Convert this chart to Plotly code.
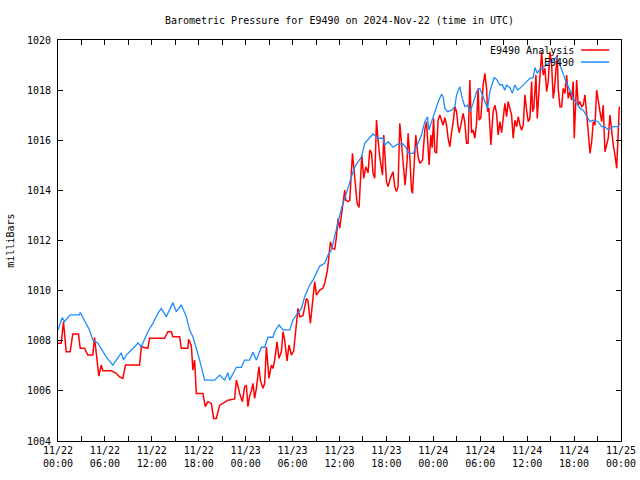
import pandas as pd
import plotly.graph_objects as go

START = "2024-11-22 00:00"
END = "2024-11-25 00:00"

# E9490 observations: hours after START, pressure (mb)
obs_hours = [0.0, 0.54, 0.83, 1.56, 2.75, 2.84, 4.03, 4.45, 5.09, 6.17, 7.01, 8.09, 8.38, 8.73,
             10.01, 10.21, 10.65, 11.49, 12.13, 12.77, 13.21, 13.85, 14.69, 15.13, 15.77, 16.41,
             16.83, 17.25, 18.11, 18.75, 20.03, 20.67, 21.31, 21.73, 21.95, 22.81, 23.45, 23.87,
             24.51, 24.93, 25.37, 26.01, 26.43, 26.85, 27.49, 27.71, 28.26, 28.77, 29.63, 30.05,
             30.49, 31.13, 31.55, 32.19, 32.61, 33.05, 33.47, 34.11, 34.53, 34.97, 35.39, 35.81,
             36.25, 36.67, 37.09, 37.53, 37.95, 38.37, 38.81, 39.23, 39.65, 40.29, 40.93, 41.57,
             41.79, 42.21, 42.85, 43.49, 44.13, 44.57, 44.77, 45.41, 45.85, 46.49, 46.91, 47.26,
             47.42, 47.77, 48.19, 48.70, 49.05, 49.25, 49.47, 49.82, 50.33, 50.75, 50.97, 51.39,
             51.69, 52.03, 52.38, 52.67, 53.09, 53.53, 53.95, 54.25, 54.59, 54.94, 55.23, 55.78,
             56.09, 56.51, 56.81, 57.15, 57.37, 57.79, 58.09, 58.43, 58.78, 59.07, 59.71, 60.35,
             60.77, 60.99, 61.29, 61.54, 61.85, 62.40, 63.13, 63.77, 64.19, 64.61, 65.05, 65.47,
             65.89, 66.33, 66.75, 67.17, 67.61, 68.03, 68.45, 69.09, 69.53, 69.95, 70.37, 71.01,
             71.65, 71.87]
obs_mb = [1008.43, 1008.93, 1008.76, 1009.03, 1009.03, 1009.13, 1008.43, 1008.03, 1007.90, 1007.36,
          1007.03, 1007.52, 1007.23, 1007.43, 1007.83, 1007.92, 1007.76, 1008.36, 1008.69, 1009.09,
          1009.29, 1008.96, 1009.52, 1009.16, 1009.43, 1008.96, 1008.43, 1008.16, 1007.23, 1006.43,
          1006.43, 1006.63, 1006.43, 1006.72, 1006.43, 1006.94, 1006.94, 1007.23, 1007.23, 1007.54,
          1007.23, 1007.74, 1007.74, 1008.14, 1008.14, 1008.36, 1008.63, 1008.43, 1008.43, 1008.83,
          1009.03, 1009.29, 1009.76, 1010.22, 1010.42, 1010.69, 1010.98, 1011.09, 1011.42, 1011.62,
          1012.15, 1012.69, 1013.28, 1013.68, 1014.15, 1014.55, 1014.94, 1015.14, 1015.34, 1015.88,
          1016.01, 1016.25, 1016.08, 1016.08, 1015.81, 1015.94, 1015.72, 1015.85, 1015.85, 1015.68,
          1015.48, 1015.48, 1015.74, 1016.21, 1016.74, 1016.94, 1016.41, 1016.74, 1017.14, 1017.60,
          1017.83, 1017.75, 1017.27, 1017.14, 1017.20, 1017.34, 1017.81, 1018.14, 1017.67, 1017.34,
          1017.40, 1017.14, 1017.47, 1017.94, 1018.07, 1017.81, 1017.60, 1017.27, 1017.94, 1018.50,
          1018.43, 1018.20, 1018.22, 1018.00, 1018.20, 1018.10, 1017.87, 1018.20, 1018.00, 1018.07,
          1018.27, 1018.47, 1018.50, 1018.90, 1018.67, 1018.80, 1018.84, 1019.00, 1019.13, 1019.33,
          1019.00, 1018.60, 1018.27, 1018.00, 1017.67, 1017.47, 1017.27, 1017.20, 1016.94, 1016.74,
          1016.80, 1016.74, 1016.54, 1016.54, 1016.41, 1016.54, 1016.54, 1016.68]

# E9490 Analysis: hours after START, pressure (mb)
ana_hours = [0.0, 0.41, 0.58, 0.70, 1.05, 1.56, 1.89, 2.62, 2.84, 3.39, 3.81, 4.45, 4.67, 4.97,
             5.22, 5.53, 5.73, 6.81, 7.45, 7.87, 8.29, 8.64, 10.43, 10.65, 11.49, 11.71, 13.63,
             14.05, 14.49, 14.69, 15.55, 15.77, 16.61, 16.70, 17.05, 17.25, 17.47, 17.69, 18.53,
             18.84, 19.17, 19.61, 19.90, 20.25, 20.67, 21.09, 21.31, 21.73, 22.59, 22.81, 23.01,
             23.23, 23.58, 23.87, 24.09, 24.29, 24.51, 24.73, 24.93, 25.15, 25.37, 25.57, 25.70,
             25.88, 26.21, 26.43, 26.65, 26.98, 27.29, 27.49, 27.71, 28.01, 28.26, 28.57, 28.77,
             28.99, 29.29, 29.54, 29.85, 30.14, 30.40, 30.69, 30.91, 31.33, 31.77, 31.97, 32.28,
             32.61, 32.83, 33.05, 33.47, 33.89, 34.11, 34.46, 34.66, 34.84, 35.10, 35.39, 35.61,
             35.81, 36.03, 36.25, 36.45, 36.67, 36.80, 37.09, 37.31, 37.53, 37.66, 37.82, 38.08,
             38.25, 38.50, 38.68, 38.85, 39.10, 39.36, 39.65, 39.87, 40.09, 40.29, 40.51, 40.73,
             40.93, 41.15, 41.50, 41.66, 41.83, 42.01, 42.21, 42.52, 42.85, 43.07, 43.29, 43.49,
             43.71, 43.97, 44.22, 44.39, 44.65, 44.77, 44.99, 45.21, 45.34, 45.50, 45.76, 46.05,
             46.27, 46.62, 46.91, 47.13, 47.33, 47.46, 47.68, 47.85, 48.03, 48.19, 48.41, 48.61,
             48.83, 49.05, 49.25, 49.47, 49.69, 49.89, 50.11, 50.33, 50.53, 50.75, 50.97, 51.17,
             51.30, 51.52, 51.81, 52.03, 52.25, 52.45, 52.67, 52.89, 53.09, 53.31, 53.53, 53.73,
             53.86, 54.08, 54.37, 54.59, 54.81, 54.94, 55.10, 55.36, 55.65, 55.87, 56.09, 56.29,
             56.51, 56.73, 57.15, 57.37, 57.57, 57.79, 58.01, 58.21, 58.43, 58.65, 58.86, 59.07,
             59.29, 59.50, 59.71, 59.93, 60.13, 60.35, 60.57, 60.70, 60.86, 61.12, 61.29, 61.54,
             61.72, 61.85, 62.05, 62.27, 62.49, 62.69, 62.91, 63.13, 63.33, 63.46, 63.68, 63.85,
             63.97, 64.19, 64.41, 64.61, 64.83, 65.05, 65.25, 65.47, 65.69, 65.89, 66.02, 66.20,
             66.33, 66.53, 66.75, 66.97, 67.17, 67.39, 67.61, 67.81, 68.03, 68.25, 68.45, 68.67,
             68.89, 69.09, 69.31, 69.53, 69.73, 69.95, 70.17, 70.37, 70.59, 70.81, 71.01, 71.23,
             71.45, 71.65, 71.78]
ana_mb = [1007.90, 1007.90, 1008.40, 1008.76, 1007.56, 1007.56, 1008.27, 1008.27, 1007.70, 1007.70,
          1007.43, 1007.43, 1008.14, 1007.23, 1006.59, 1007.03, 1006.80, 1006.80, 1006.70, 1006.56,
          1006.50, 1007.03, 1007.03, 1007.76, 1007.70, 1008.10, 1008.10, 1008.36, 1008.36, 1008.16,
          1008.16, 1007.70, 1007.70, 1008.06, 1007.80, 1006.83, 1007.23, 1005.90, 1005.90, 1005.37,
          1005.57, 1005.50, 1004.90, 1004.90, 1005.43, 1005.50, 1005.55, 1005.63, 1005.68, 1006.43,
          1006.20, 1005.90, 1005.57, 1006.17, 1006.20, 1005.37, 1005.80, 1006.00, 1006.30, 1005.70,
          1006.10, 1006.70, 1006.96, 1006.43, 1006.10, 1006.30, 1007.76, 1006.50, 1007.03, 1006.90,
          1007.23, 1007.96, 1007.30, 1007.56, 1008.36, 1008.03, 1007.20, 1007.83, 1007.43, 1007.60,
          1008.30, 1009.29, 1008.96, 1009.00, 1009.69, 1009.60, 1008.69, 1009.89, 1010.36, 1009.82,
          1010.02, 1010.10, 1010.29, 1010.82, 1011.42, 1011.95, 1011.69, 1011.65, 1012.15, 1012.88,
          1012.49, 1013.08, 1013.42, 1014.01, 1013.61, 1013.55, 1013.60, 1014.55, 1015.48, 1014.94,
          1014.08, 1013.48, 1013.32, 1014.41, 1015.41, 1014.48, 1014.94, 1014.70, 1015.61, 1015.50,
          1014.68, 1014.48, 1016.81, 1016.01, 1015.34, 1014.61, 1016.21, 1015.30, 1014.35, 1014.15,
          1014.50, 1014.74, 1014.15, 1013.95, 1014.15, 1016.68, 1015.74, 1014.61, 1014.21, 1015.21,
          1016.28, 1015.34, 1014.01, 1013.88, 1014.81, 1016.21, 1015.34, 1015.08, 1015.20, 1016.41,
          1016.74, 1015.41, 1015.01, 1016.21, 1015.70, 1016.87, 1015.54, 1015.50, 1016.81, 1017.01,
          1016.80, 1016.60, 1016.90, 1016.60, 1016.08, 1015.74, 1016.30, 1016.70, 1017.34, 1017.15,
          1016.54, 1016.30, 1016.60, 1017.07, 1016.70, 1015.88, 1015.88, 1018.40, 1016.30, 1016.40,
          1016.08, 1016.70, 1018.07, 1016.80, 1016.90, 1018.20, 1018.67, 1018.07, 1017.14, 1017.30,
          1015.81, 1017.14, 1017.40, 1017.07, 1016.21, 1016.74, 1016.30, 1017.47, 1016.94, 1017.54,
          1017.27, 1017.00, 1016.08, 1016.80, 1016.54, 1016.94, 1016.61, 1016.40, 1016.61, 1017.81,
          1017.20, 1016.74, 1016.87, 1018.34, 1017.14, 1017.30, 1018.60, 1016.87, 1018.10, 1019.00,
          1019.53, 1018.60, 1018.87, 1017.94, 1018.34, 1019.53, 1019.00, 1017.67, 1017.94, 1018.80,
          1019.40, 1018.07, 1017.34, 1017.34, 1018.07, 1017.87, 1018.60, 1017.67, 1017.94, 1017.60,
          1018.34, 1016.08, 1017.54, 1018.40, 1017.40, 1017.54, 1017.34, 1017.40, 1017.81, 1017.14,
          1016.34, 1015.48, 1015.94, 1016.74, 1016.60, 1018.00, 1017.47, 1017.14, 1016.74, 1017.40,
          1015.54, 1015.80, 1016.08, 1017.01, 1016.34, 1015.81, 1015.41, 1014.88, 1016.34, 1017.34]

y_ticks = [1004, 1006, 1008, 1010, 1012, 1014, 1016, 1018, 1020]

start = pd.Timestamp(START)
end = pd.Timestamp(END)
obs_t = start + pd.to_timedelta(obs_hours, unit="h")
ana_t = start + pd.to_timedelta(ana_hours, unit="h")

major = pd.date_range(start, end, freq="6h")
minor = pd.date_range(start, end, freq="3h")
tick_text = [t.strftime("%m/%d<br>%H:%M") for t in major]

FONT = "DejaVu Sans Mono"
RED = "#ff0000"
BLUE = "#1e8cff"

fig = go.Figure()
fig.add_trace(go.Scatter(x=ana_t, y=ana_mb, mode="lines", name="E9490 Analysis",
                         line=dict(color=RED, width=1.5)))
fig.add_trace(go.Scatter(x=obs_t, y=obs_mb, mode="lines", name="E9490",
                         line=dict(color=BLUE, width=1.3)))

axis_common = dict(showline=True, linecolor="black", linewidth=1, mirror="allticks",
                   ticks="inside", ticklen=5, tickcolor="black", showgrid=False,
                   zeroline=False, automargin=False,
                   tickfont=dict(family=FONT, size=10, color="black"))

fig.update_layout(
    template="none",
    width=640, height=480,
    margin=dict(l=58, r=19, t=40, b=39, pad=0),
    paper_bgcolor="white", plot_bgcolor="white",
    showlegend=False,
    hovermode=False,
    font=dict(family=FONT, size=10, color="black"),
    title=dict(text="Barometric Pressure for E9490 on 2024-Nov-22 (time in UTC)",
               x=0.5, xref="paper", y=1 - 20 / 480, yref="container", yanchor="middle",
               automargin=False,
               font=dict(family=FONT, size=10, color="black")),
    xaxis=dict(range=[start, end], tickmode="array", tickvals=major, ticktext=tick_text,
               minor=dict(tickmode="array", tickvals=minor, ticks="inside", ticklen=5,
                          tickcolor="black", showgrid=False),
               **axis_common),
    yaxis=dict(range=[1004, 1020], tickmode="array", tickvals=y_ticks,
               ticklabelstandoff=4, **axis_common),
)

# y-axis title
fig.add_annotation(text="milliBars", xref="paper", yref="paper", x=-0.085, y=0.5,
                   textangle=-90, showarrow=False, xanchor="center", yanchor="middle",
                   font=dict(family=FONT, size=10, color="black"))

# gnuplot-style key (text, then line sample) at top right
key_rows = [("E9490 Analysis", RED, 0.975), ("E9490", BLUE, 0.945)]
for label, color, yy in key_rows:
    fig.add_annotation(text=label, xref="paper", yref="paper", x=0.92, y=yy,
                       xanchor="right", yanchor="middle", showarrow=False,
                       font=dict(family=FONT, size=10, color="black"))
    fig.add_shape(type="line", xref="paper", yref="paper", x0=0.929, x1=0.979,
                  y0=yy, y1=yy, line=dict(color=color, width=1.5))

fig.write_html("out.html", config={"displayModeBar": False, "staticPlot": True},
               post_script="document.body.style.margin='0';document.body.style.overflow='hidden';")
